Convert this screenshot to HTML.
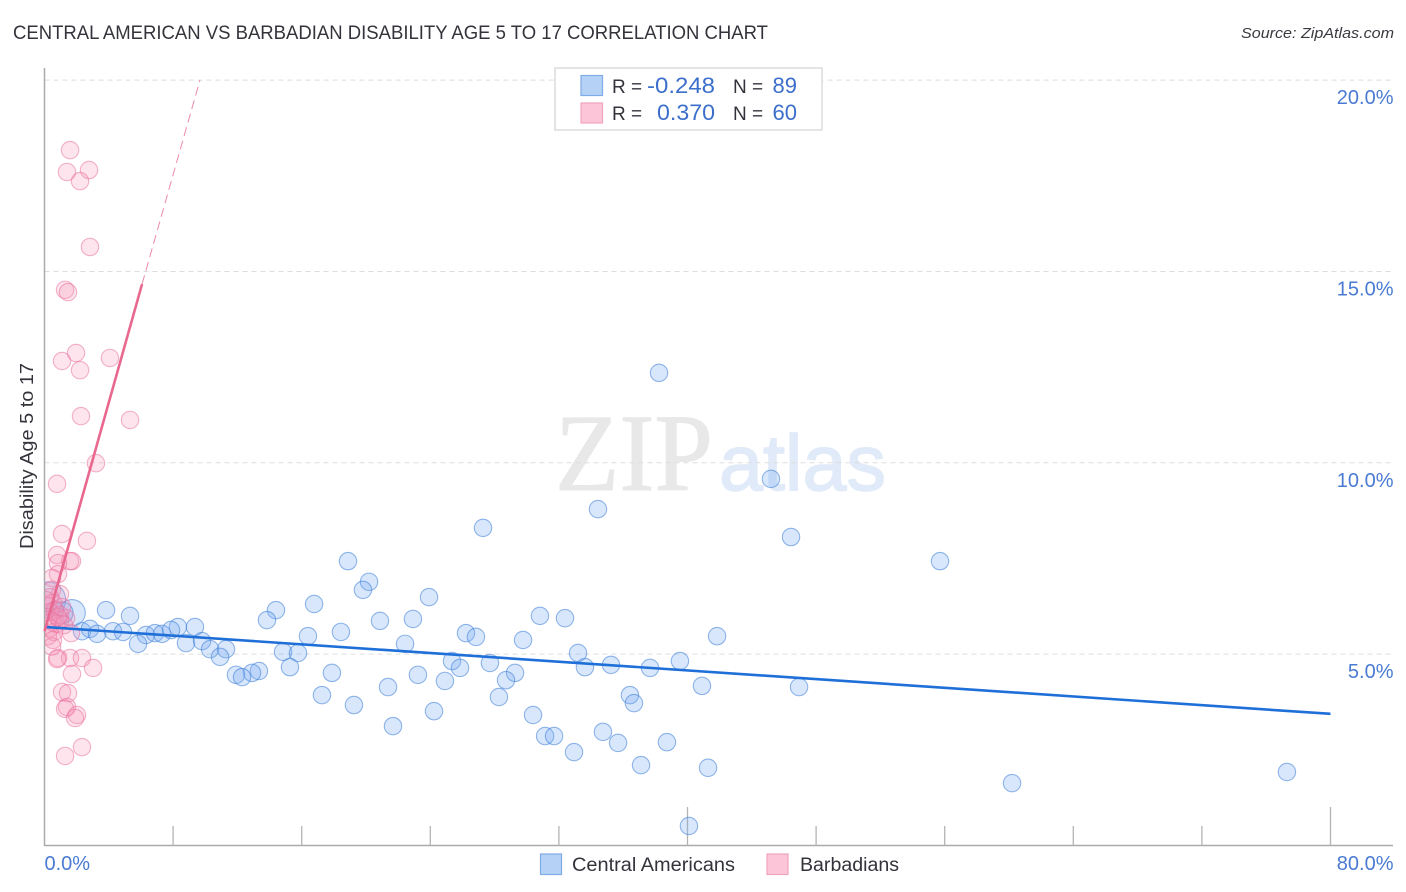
<!DOCTYPE html>
<html>
<head>
<meta charset="utf-8">
<title>Central American vs Barbadian Disability Age 5 to 17 Correlation Chart</title>
<style>
html,body{margin:0;padding:0;background:#fff;width:1406px;height:892px;overflow:hidden}
svg{display:block;font-family:"Liberation Sans",sans-serif}
</style>
</head>
<body>
<svg id="chart" width="1406" height="892" viewBox="0 0 1406 892" xmlns="http://www.w3.org/2000/svg">
  <defs>
    <clipPath id="plot-clip"><rect x="45" y="60" width="1348" height="785"/></clipPath>
  </defs>
  <rect x="0" y="0" width="1406" height="892" fill="#ffffff"/>
  <text x="13" y="39" font-size="19" fill="#33333b" textLength="755" lengthAdjust="spacingAndGlyphs">CENTRAL AMERICAN VS BARBADIAN DISABILITY AGE 5 TO 17 CORRELATION CHART</text>
  <text x="1394" y="38" font-size="15" font-style="italic" fill="#3a3a42" text-anchor="end" textLength="153" lengthAdjust="spacingAndGlyphs">Source: ZipAtlas.com</text>

  <g>
    <text x="555" y="490" font-family="'Liberation Serif',serif" font-size="110" fill="#e8e8e8" stroke="#e8e8e8" stroke-width="1" textLength="158" lengthAdjust="spacingAndGlyphs">ZIP</text>
    <text x="719" y="490" font-size="79" fill="#e0eaf9" stroke="#e0eaf9" stroke-width="1.5" textLength="167" lengthAdjust="spacingAndGlyphs">atlas</text>
  </g>

  <g id="grid"></g>
  <g id="axes"></g>
  <g id="blue-points" clip-path="url(#plot-clip)"></g>
  <g id="pink-points" clip-path="url(#plot-clip)"></g>
  <g id="trend-lines"></g>
  <g id="tick-labels"></g>

  <text transform="translate(33,456) rotate(-90)" font-size="18" fill="#33333b" text-anchor="middle" textLength="186" lengthAdjust="spacingAndGlyphs">Disability Age 5 to 17</text>

  <g>
    <rect x="555" y="68" width="267" height="62" fill="#ffffff" stroke="#dcdcdc" stroke-width="1.5"/>
    <rect x="581" y="75.5" width="21.5" height="20" fill="#b5d2f6" stroke="#7fabe6" stroke-width="1.2"/>
    <rect x="581" y="103" width="21.5" height="20" fill="#fcc6d8" stroke="#f0a3bd" stroke-width="1.2"/>
    <text x="612" y="93" font-size="19" fill="#33333b">R =</text>
    <text x="715" y="93" font-size="22" fill="#3c6fcb" text-anchor="end" textLength="68" lengthAdjust="spacingAndGlyphs">-0.248</text>
    <text x="733" y="93" font-size="19" fill="#33333b">N =</text>
    <text x="797" y="93" font-size="22" fill="#3c6fcb" text-anchor="end">89</text>
    <text x="612" y="120" font-size="19" fill="#33333b">R =</text>
    <text x="715" y="120" font-size="22" fill="#3c6fcb" text-anchor="end" textLength="58" lengthAdjust="spacingAndGlyphs">0.370</text>
    <text x="733" y="120" font-size="19" fill="#33333b">N =</text>
    <text x="797" y="120" font-size="22" fill="#3c6fcb" text-anchor="end">60</text>
  </g>

  <g>
    <rect x="540.5" y="854" width="21" height="20.5" fill="#b5d2f6" stroke="#7fabe6" stroke-width="1.2"/>
    <text x="572" y="871" font-size="19" fill="#33333b" textLength="163" lengthAdjust="spacingAndGlyphs">Central Americans</text>
    <rect x="767" y="854" width="21" height="20.5" fill="#fcc6d8" stroke="#f0a3bd" stroke-width="1.2"/>
    <text x="800" y="871" font-size="19" fill="#33333b" textLength="99" lengthAdjust="spacingAndGlyphs">Barbadians</text>
  </g>
</svg>
<script>
// Chart data (percent values)
const yTickValues = [5, 10, 15, 20];
const yTickLabels = ["5.0%", "10.0%", "15.0%", "20.0%"];
const xTickValues = [8, 16, 24, 32, 40, 48, 56, 64, 72, 80];
const xEdgeLabels = ["0.0%", "80.0%"];

const blueX = [38.23,45.19,34.43,27.28,46.44,55.71,18.88,20.19,19.81,23.92,16.77,14.40,3.83,5.32,30.82,32.38,22.92,20.87,13.84,9.36,8.30,18.44,26.22,26.84,29.77,41.84,16.39,2.33,2.83,3.27,4.26,4.88,6.31,6.87,7.31,7.87,5.82,8.80,9.80,10.30,11.29,10.92,14.84,15.77,22.43,33.19,39.53,35.24,33.62,37.67,25.35,25.85,27.71,29.27,28.71,15.27,13.34,12.91,11.91,12.29,17.88,23.23,24.91,21.37,40.90,46.94,17.26,19.25,28.27,36.42,36.67,24.23,30.39,21.68,34.74,31.14,31.70,35.68,38.72,32.94,37.11,41.28,60.19,77.29,40.09];
const blueY = [12.35,9.58,8.79,8.30,8.06,7.43,7.43,6.89,6.68,6.49,6.31,6.15,6.15,6.00,6.00,5.94,5.92,5.87,5.89,5.71,5.71,5.58,5.55,5.45,5.37,5.47,5.47,5.60,5.66,5.53,5.60,5.58,5.50,5.55,5.53,5.63,5.27,5.29,5.34,5.13,5.13,4.93,5.06,5.03,5.27,5.03,4.82,4.72,4.66,4.64,4.82,4.64,4.77,4.51,4.32,4.66,4.56,4.51,4.46,4.40,4.51,4.46,4.30,4.14,4.17,4.14,3.93,3.67,3.88,3.93,3.72,3.51,3.41,3.12,2.97,2.86,2.86,2.68,2.70,2.44,2.10,2.03,1.63,1.92,0.51];

// Aggregated (larger) Central American bubbles near the origin
const blueClusterX = [0.2, 1.71, 1.09, 0.65];
const blueClusterY = [6.42, 6.08, 6.08, 6.15];
const blueClusterWeight = [3, 2, 1.5, 1];

const pinkX = [1.59,2.77,1.40,2.21,2.83,1.28,1.46,1.96,1.09,2.21,4.07,2.27,5.32,3.20,0.78,1.09,2.64,0.78,1.71,1.59,0.84,0.84,0.47,0.47,0.96,0.34,0.22,0.53,0.65,0.34,0.96,1.34,0.22,0.47,0.72,0.96,0.34,0.59,1.65,0.22,0.53,0.84,1.59,2.33,3.02,1.71,1.09,1.46,1.40,1.28,2.02,1.90,2.33,1.28,0.78,0.47,1.21,0.84,0.09,1.09];
const pinkY = [18.17,17.65,17.60,17.36,15.64,14.52,14.46,12.87,12.66,12.42,12.74,11.22,11.12,9.99,9.45,8.14,7.96,7.59,7.43,7.43,7.38,7.09,6.99,6.68,6.57,6.49,6.26,6.34,6.15,6.10,6.02,5.94,5.89,5.84,5.79,5.89,5.68,5.58,5.55,5.47,5.37,4.90,4.90,4.90,4.64,4.48,4.01,3.98,3.62,3.57,3.41,3.33,2.57,2.34,4.87,5.20,5.76,5.97,6.41,6.23];

const blueTrendX = [0, 80];
const blueTrendY = [5.71, 3.44];
const pinkSolidX = [0, 6.07];
const pinkSolidY = [5.6, 14.67];
const pinkDashX = [6.07, 9.67];
const pinkDashY = [14.67, 20];

// Axis functions
const xScale = v => 44.5 + v * 16.075;
const yScale = v => 845.5 - v * 38.27;
const NS = "http://www.w3.org/2000/svg";
function make(tag, attrs, parent) {
  const el = document.createElementNS(NS, tag);
  for (const k in attrs) el.setAttribute(k, attrs[k]);
  parent.appendChild(el);
  return el;
}

const grid = document.getElementById("grid");
yTickValues.forEach(v => {
  const line = make("line", {x1: 44.5, x2: 1393, y1: yScale(v), y2: yScale(v), stroke: "#dddddd", "stroke-width": 1, "stroke-dasharray": "5 4"}, grid);
  
  
});

const axes = document.getElementById("axes");
const yAxis = make("line", {x1: 44.5, x2: 44.5, y1: 68, y2: 846, stroke: "#aaaaaa", "stroke-width": 1.5}, axes);


const xAxis = make("line", {x1: 44, x2: 1393, y1: 845.5, y2: 845.5, stroke: "#aaaaaa", "stroke-width": 1.5}, axes);


xTickValues.forEach(v => {
  const major = v === 40 || v === 80;
  const tick = make("line", {x1: xScale(v), x2: xScale(v), y1: major ? 807 : 826, y2: 845.5, stroke: "#b4b4b4", "stroke-width": 1.3}, axes);
  
  
});

function bubble(parent, xv, yv, r, fill, stroke, name) {
  const c = make("circle", {cx: xScale(xv), cy: yScale(yv), r: r, fill: fill, stroke: stroke, "stroke-width": 1.1}, parent);
  
  
}

const bluePts = document.getElementById("blue-points");
const BLUE_FILL = "rgba(115,170,240,0.28)", BLUE_STROKE = "rgba(60,125,215,0.55)";
const PINK_FILL = "rgba(248,150,185,0.26)", PINK_STROKE = "rgba(232,110,155,0.52)";
blueClusterX.forEach((x, i) => {
  bubble(bluePts, x, blueClusterY[i], 8.7 + (blueClusterWeight[i] - 1) * 4.6, BLUE_FILL, BLUE_STROKE, 'central-americans-cluster-point');
});
blueX.forEach((x, i) => {
  bubble(bluePts, x, blueY[i], 8.7, BLUE_FILL, BLUE_STROKE, 'central-americans-point');
});
const pinkPts = document.getElementById("pink-points");
pinkX.forEach((x, i) => {
  bubble(pinkPts, x, pinkY[i], 8.7, PINK_FILL, PINK_STROKE, 'barbadians-point');
});

const trends = document.getElementById("trend-lines");
const tb = make("line", {x1: xScale(blueTrendX[0]), y1: yScale(blueTrendY[0]), x2: xScale(blueTrendX[1]), y2: yScale(blueTrendY[1]), stroke: "#1f6fd8", "stroke-width": 2.6}, trends);


const tp = make("line", {x1: xScale(pinkSolidX[0]), y1: yScale(pinkSolidY[0]), x2: xScale(pinkSolidX[1]), y2: yScale(pinkSolidY[1]), stroke: "#e9688f", "stroke-width": 2.6}, trends);


const td = make("line", {x1: xScale(pinkDashX[0]), y1: yScale(pinkDashY[0]), x2: xScale(pinkDashX[1]), y2: yScale(pinkDashY[1]), stroke: "#eb8aa8", "stroke-width": 1, "stroke-dasharray": "9 5"}, trends);



const labels = document.getElementById("tick-labels");
yTickLabels.forEach((t, i) => {
  const el = make("text", {x: 1393.5, y: yScale(yTickValues[i]) + 24, "font-size": 20, fill: "#4a7bd2", "text-anchor": "end"}, labels);
  
  
  el.textContent = t;
});
const x0Label = make("text", {x: 44.5, y: 870, "font-size": 20, fill: "#4a7bd2"}, labels);


x0Label.textContent = xEdgeLabels[0];
const x1Label = make("text", {x: 1393.5, y: 870, "font-size": 20, fill: "#4a7bd2", "text-anchor": "end"}, labels);


x1Label.textContent = xEdgeLabels[1];
</script>
</body>
</html>
